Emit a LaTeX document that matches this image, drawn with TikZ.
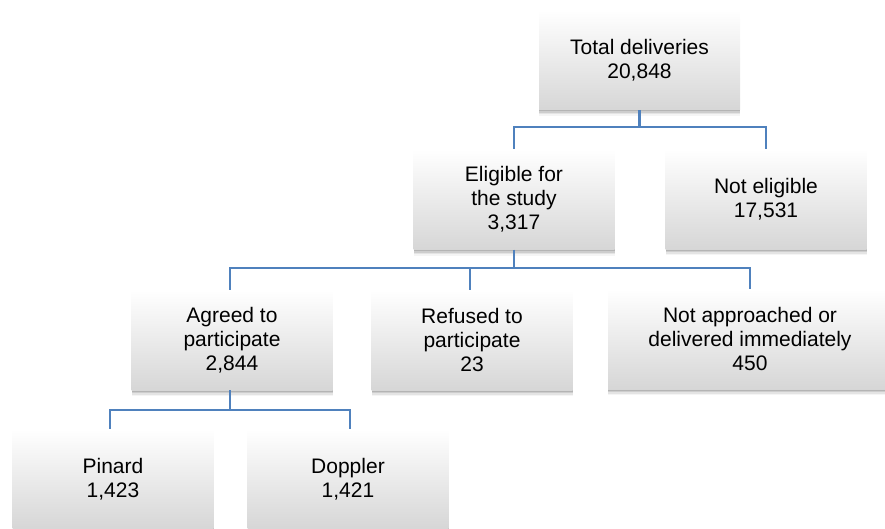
\documentclass[tikz,border=0pt]{standalone}
\usepackage{fontspec}
\setmainfont{Liberation Sans}
\usetikzlibrary{shadows}
\definecolor{connblue}{RGB}{79,129,189}
\begin{document}
\begin{tikzpicture}[x=1pt,y=-1pt,
  box/.style={rectangle, draw=none, top color=white, bottom color=black!16,
    minimum width=201pt, minimum height=100pt, align=center, inner sep=2pt,
    font=\fontsize{21}{24}\selectfont,
    general shadow={shadow yshift=-1.5pt, fill=black, opacity=0.12},
    general shadow={shadow yshift=-3pt, fill=black, opacity=0.10},
    general shadow={shadow yshift=-4.5pt, fill=black, opacity=0.07},
    general shadow={shadow yshift=-6pt, fill=black, opacity=0.04}},
  conn/.style={draw=connblue, line width=2.7pt}]
\useasboundingbox (0,0) rectangle (885,529);
\node[box] (total) at (639.5,60) {Total deliveries\\20,848};
\node[box] (elig) at (514,199.5) {Eligible for\\the study\\3,317};
\node[box] (noteli) at (766,199) {Not eligible\\17,531};
\node[box] (agreed) at (232,340) {Agreed to\\participate\\2,844};
\node[box] (refused) at (472,340) {Refused to\\participate\\23};
\node[box, minimum width=284pt] (notapp) at (750,339) {Not approached or\\delivered immediately\\450};
\node[box] (pinard) at (113,479) {Pinard\\1,423};
\node[box] (doppler) at (348,479) {Doppler\\1,421};
\coordinate (busA) at (0,127);
\coordinate (busB) at (0,268);
\coordinate (busC) at (0,410);
\draw[conn] (total.south) -- (total.south |- busA) -| (elig.north);
\draw[conn] (total.south |- busA) -| (noteli.north);
\draw[conn] (elig.south) -- (elig.south |- busB) -| ([xshift=-2pt]agreed.north);
\draw[conn] (elig.south |- busB) -| ([xshift=-2pt]refused.north);
\draw[conn] (elig.south |- busB) -| (notapp.north);
\draw[conn] ([xshift=-2pt]agreed.south) -- ([xshift=-2pt]agreed.south |- busC) -| ([xshift=-3pt]pinard.north);
\draw[conn] ([xshift=-2pt]agreed.south |- busC) -| ([xshift=2pt]doppler.north);
\end{tikzpicture}
\end{document}
